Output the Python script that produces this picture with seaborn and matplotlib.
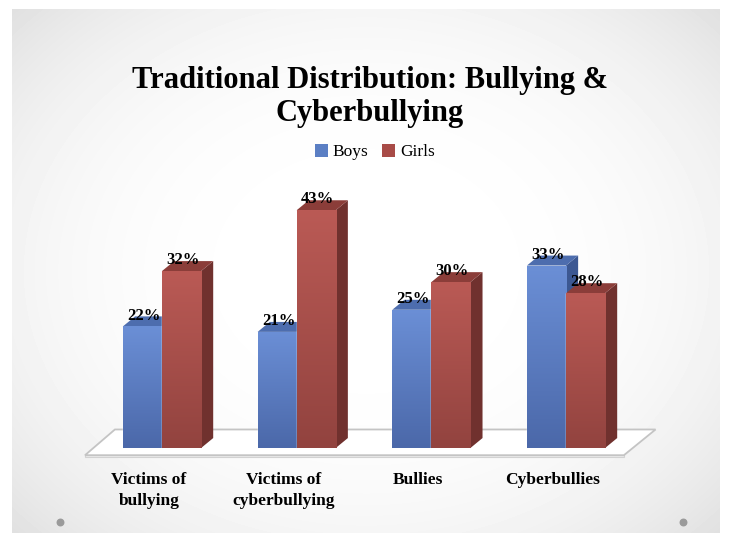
import numpy as np
import pandas as pd
import matplotlib
matplotlib.use('Agg')
import matplotlib.pyplot as plt
import matplotlib.transforms as mtransforms
from matplotlib.patches import Polygon, Patch
from matplotlib.colors import LinearSegmentedColormap
import seaborn as sns

categories = ['Victims of\nbullying', 'Victims of\ncyberbullying', 'Bullies', 'Cyberbullies']
boys = [22, 21, 25, 33]
girls = [32, 43, 30, 28]
groups = ['Boys', 'Girls']

df = pd.DataFrame({
    'category': categories * 2,
    'value': boys + girls,
    'gender': ['Boys'] * len(boys) + ['Girls'] * len(girls),
})

sns.set_style('white')
plt.rcParams['font.family'] = ['Liberation Serif', 'DejaVu Serif']

# colours per group: front top, front bottom, side, top face
face = {
    'Boys': ('#6b8fd6', '#4b68a9', '#3c5892', '#4d6dae'),
    'Girls': ('#ba5a55', '#92433f', '#70312e', '#8b3d39'),
}

fig = plt.figure(figsize=(7.31, 5.42), dpi=100)
fig.patch.set_facecolor('white')

# slide background with soft radial gradient
bg = fig.add_axes([0, 0, 1, 1], zorder=-5)
W, H = 708, 524
yy, xx = np.mgrid[0:H, 0:W]
r = np.sqrt(((xx - W * 0.5) / (W * 0.7)) ** 2 + ((yy - H * 0.5) / (H * 0.75)) ** 2)
shade = 1 - 0.13 * np.clip(r, 0, 1.3) ** 3
bg.imshow(shade, extent=(12, 12 + W, 9 + H, 9), cmap='gray', vmin=0, vmax=1,
          aspect='auto', interpolation='bilinear')
bg.set_xlim(0, 731)
bg.set_ylim(542, 0)
bg.scatter([60, 683], [522, 522], s=22, color='#9a9a9a', zorder=3)
bg.axis('off')

ax = fig.add_axes([0.1067, 0.1476, 0.803, 0.4926])
ax.set_facecolor('none')

bar_w = 0.58
sns.barplot(data=df, x='category', y='value', hue='gender', hue_order=groups,
            palette=[face['Boys'][1], face['Girls'][1]], width=bar_w,
            dodge=True, legend=False, ax=ax, saturation=1)

xmin, xmax = -0.624, 3.735
ymin, ymax = -2.53, 45.75
dx, dy = 0.09, 1.8

# floor plane
fl = Polygon([(-0.572, -1.3), (3.43, -1.3), (3.665, 3.35), (-0.35, 3.35)],
             closed=True, facecolor='white', edgecolor='#c4c4c4', lw=1.3, zorder=1)
ax.add_patch(fl)
fl2 = Polygon([(-0.572, -1.3), (3.43, -1.3), (3.43, -1.65), (-0.572, -1.65)],
              closed=True, facecolor='#ececec', edgecolor='#d2d2d2', lw=0.8, zorder=0.9)
ax.add_patch(fl2)

grad = np.linspace(0, 1, 200).reshape(-1, 1)
for gi, (name, cont) in enumerate(zip(groups, ax.containers)):
    top_c, bot_c, side_c, lid_c = face[name]
    cmap = LinearSegmentedColormap.from_list(name, [bot_c, top_c])
    z = 2 + gi
    for bar in cont:
        x0 = bar.get_x()
        w = bar.get_width()
        h = bar.get_height()
        bar.set_zorder(z)
        im = ax.imshow(grad, extent=(x0, x0 + w, 0, h), origin='lower', cmap=cmap,
                       aspect='auto', zorder=z + 0.1, interpolation='bilinear')
        im.set_clip_path(bar)
        side = Polygon([(x0 + w, 0), (x0 + w + dx, dy), (x0 + w + dx, h + dy), (x0 + w, h)],
                       closed=True, facecolor=side_c, edgecolor='none', zorder=z)
        lid = Polygon([(x0, h), (x0 + dx, h + dy), (x0 + w + dx, h + dy), (x0 + w, h)],
                      closed=True, facecolor=lid_c, edgecolor='none', zorder=z)
        ax.add_patch(side)
        ax.add_patch(lid)
        ax.text(x0 + w / 2 + 0.01, h + 0.5, f'{h:.0f}%', ha='center', va='bottom',
                fontsize=12, fontweight='bold', color='black', zorder=6)

ax.set_xlim(xmin, xmax)
ax.set_ylim(ymin, ymax)
ax.set_xlabel('')
ax.set_ylabel('')
ax.set_yticks([])
ax.tick_params(axis='x', length=0, pad=7, labelsize=12.5, labelcolor='black')
for lbl in ax.get_xticklabels():
    lbl.set_fontweight('bold')
    lbl.set_linespacing(1.4)
    lbl.set_transform(lbl.get_transform() +
                      mtransforms.ScaledTranslation(-0.13, 0, fig.dpi_scale_trans))
for s in ax.spines.values():
    s.set_visible(False)

fig.text(0.506, 0.821, 'Traditional Distribution: Bullying &\nCyberbullying',
         ha='center', va='center', fontsize=22, fontweight='bold', linespacing=1.2,
         color='black')

handles = [Patch(facecolor='#5b7fc4', edgecolor='none'),
           Patch(facecolor='#a84b47', edgecolor='none')]
fig.legend(handles, groups, loc='center', bbox_to_anchor=(375 / 731, 1 - 152 / 542),
           ncol=2, frameon=False, fontsize=12.5, handlelength=0.75, handleheight=0.75,
           handletextpad=0.25, columnspacing=0.8, labelcolor='black')

fig.savefig('out.png', dpi=100)
